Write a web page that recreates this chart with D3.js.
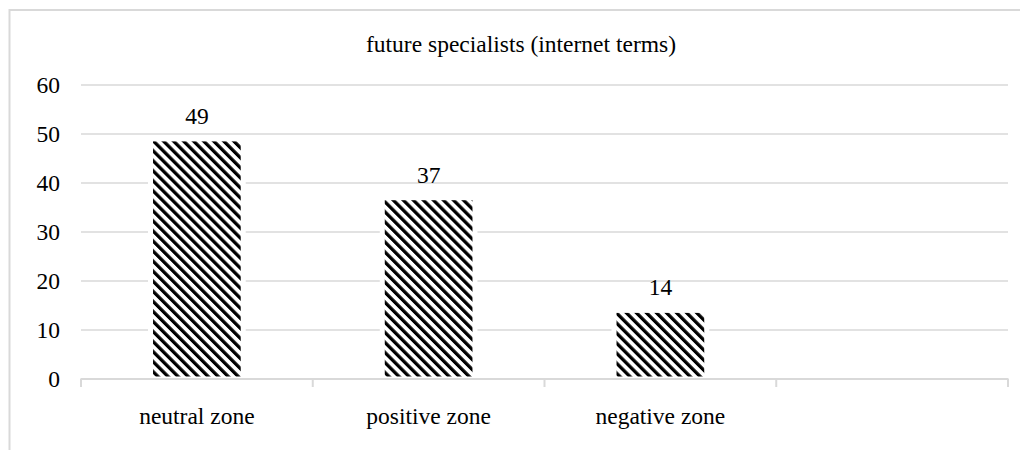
<!DOCTYPE html>
<html>
<head>
<meta charset="utf-8">
<script src="https://cdn.jsdelivr.net/npm/d3@7/dist/d3.min.js"></script>
<style>
  html, body { margin: 0; padding: 0; background: #fff; }
  svg { display: block; }
  text { font-family: "Liberation Serif", "Times New Roman", serif; fill: #000; }
</style>
</head>
<body>
<svg id="chart" width="1020" height="450"></svg>
<script>
const title = "future specialists (internet terms)";
const categories = ["neutral zone", "positive zone", "negative zone", ""];
const values = [49, 37, 14, null];
const yTicks = [0, 10, 20, 30, 40, 50, 60];

const W = 1020, H = 450;
const svg = d3.select("#chart");
const grid = "#d9d9d9";

const defs = svg.append("defs");
const pat = defs.append("pattern")
  .attr("id", "hatch")
  .attr("patternUnits", "userSpaceOnUse")
  .attr("width", 7.1).attr("height", 7.1)
  .attr("patternTransform", "rotate(-45)");
pat.append("rect").attr("width", 7.1).attr("height", 7.1).attr("fill", "#fff");
pat.append("rect").attr("x", 0).attr("y", 0).attr("width", 3.3).attr("height", 7.1).attr("fill", "#000");

// chart frame (extends beyond image right/bottom)
svg.append("rect")
  .attr("x", 9.5).attr("y", 10)
  .attr("width", 1040).attr("height", 460)
  .attr("fill", "#fff")
  .attr("stroke", grid).attr("stroke-width", 2);

const x = d3.scaleBand().domain(categories).range([81, 1008]).paddingInner(0).paddingOuter(0);
const y = d3.scaleLinear().domain([0, 60]).range([379, 85]);

// gridlines
svg.append("g").selectAll("line").data(yTicks.filter(t => t > 0)).join("line")
  .attr("x1", 81).attr("x2", 1008)
  .attr("y1", d => y(d)).attr("y2", d => y(d))
  .attr("stroke", grid).attr("stroke-width", 1.3);

// bars
const bw = x.bandwidth() * 0.4;
const barData = categories.map((c, i) => ({c, v: values[i]})).filter(d => d.v != null);
svg.append("g").selectAll("rect").data(barData).join("rect")
  .attr("x", d => x(d.c) + (x.bandwidth() - bw) / 2)
  .attr("width", bw)
  .attr("y", d => y(d.v))
  .attr("height", d => y(0) - y(d.v))
  .attr("fill", "url(#hatch)")
  .attr("stroke", "#fff").attr("stroke-width", 5);

// data labels
svg.append("g").selectAll("text").data(barData).join("text")
  .attr("x", d => x(d.c) + x.bandwidth() / 2)
  .attr("y", d => y(d.v) - 15)
  .attr("text-anchor", "middle")
  .attr("font-size", 23.5)
  .text(d => d.v);

// x axis line and ticks
svg.append("line")
  .attr("x1", 80.5).attr("x2", 1008.5)
  .attr("y1", y(0)).attr("y2", y(0))
  .attr("stroke", grid).attr("stroke-width", 2);
const tickXs = categories.map(c => x(c)).concat([x.range()[1]]);
svg.append("g").selectAll("line").data(tickXs).join("line")
  .attr("x1", d => d).attr("x2", d => d)
  .attr("y1", y(0)).attr("y2", y(0) + 8)
  .attr("stroke", grid).attr("stroke-width", 2);

// category labels
svg.append("g").selectAll("text").data(categories).join("text")
  .attr("x", d => x(d) + x.bandwidth() / 2)
  .attr("y", 424)
  .attr("text-anchor", "middle")
  .attr("font-size", 23.5)
  .text(d => d);

// y axis labels via d3 axis
const yAxis = d3.axisLeft(y).tickValues(yTicks).tickSize(0).tickPadding(0).tickFormat(d3.format("d"));
const gy = svg.append("g").attr("transform", "translate(60,0)").call(yAxis);
gy.select(".domain").remove();
gy.selectAll("text")
  .attr("font-size", 23.5)
  .attr("font-family", "Liberation Serif")
  .attr("fill", "#000")
  .attr("dy", "0.33em");

// title
svg.append("text")
  .attr("x", 521).attr("y", 52)
  .attr("text-anchor", "middle")
  .attr("font-size", 23.5)
  .text(title);
</script>
</body>
</html>
